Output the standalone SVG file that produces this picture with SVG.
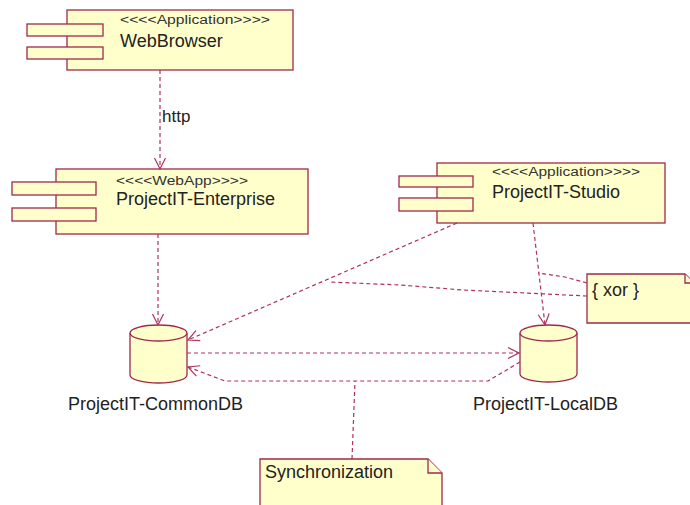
<svg xmlns="http://www.w3.org/2000/svg" width="690" height="505" viewBox="0 0 690 505">
<style>
.box{fill:#FFFFCC;stroke:#A0284F;stroke-width:1.3}
.con{fill:none;stroke:#B03060;stroke-width:1.2;stroke-dasharray:4 3}
.name{font-family:"Liberation Sans",Arial,sans-serif;font-size:18px;fill:#222}
.st{font-family:"Liberation Sans",Arial,sans-serif;font-size:12.5px;fill:#333}
</style>
<defs>
<marker id="arr" markerUnits="userSpaceOnUse" markerWidth="14" markerHeight="14" viewBox="0 0 14 14" refX="12" refY="7" orient="auto">
<path d="M1,1.5 L12,7 L1,12.5" fill="none" stroke="#B03060" stroke-width="1.2"/>
</marker>
</defs>
<rect width="690" height="505" fill="#fff"/>
<g id="WebBrowser">
<rect class="box" x="67" y="10" width="226" height="60"/>
<rect class="box" x="27" y="24" width="76" height="12"/>
<rect class="box" x="27" y="47" width="76" height="12"/>
<text class="st" x="120" y="24" textLength="150" lengthAdjust="spacingAndGlyphs">&lt;&lt;&lt;&lt;Application&gt;&gt;&gt;&gt;</text>
<text class="name" x="120" y="47">WebBrowser</text>
</g>
<g id="ProjectIT-Enterprise">
<rect class="box" x="56" y="169" width="252" height="65"/>
<rect class="box" x="12" y="182" width="84" height="13"/>
<rect class="box" x="12" y="208" width="84" height="13"/>
<text class="st" x="116" y="185" textLength="132" lengthAdjust="spacingAndGlyphs">&lt;&lt;&lt;&lt;WebApp&gt;&gt;&gt;&gt;</text>
<text class="name" x="116" y="205">ProjectIT-Enterprise</text>
</g>
<g id="ProjectIT-Studio">
<rect class="box" x="437" y="163" width="228" height="60"/>
<rect class="box" x="399" y="176" width="74" height="11"/>
<rect class="box" x="399" y="198" width="74" height="13"/>
<text class="st" x="492" y="176" textLength="148" lengthAdjust="spacingAndGlyphs">&lt;&lt;&lt;&lt;Application&gt;&gt;&gt;&gt;</text>
<text class="name" x="492" y="198">ProjectIT-Studio</text>
</g>
<g id="ProjectIT-CommonDB">
<path class="box" d="M130,333 A28.5,8 0 0 1 187,333 L187,375 A28.5,8 0 0 1 130,375 Z"/>
<path class="box" d="M130,333 A28.5,8 0 0 0 187,333" fill="none"/>
<text class="name" x="68" y="410">ProjectIT-CommonDB</text>
</g>
<g id="ProjectIT-LocalDB">
<path class="box" d="M520,333 A28.5,8 0 0 1 577,333 L577,374 A28.5,8 0 0 1 520,374 Z"/>
<path class="box" d="M520,333 A28.5,8 0 0 0 577,333" fill="none"/>
<text class="name" x="473" y="410">ProjectIT-LocalDB</text>
</g>
<g id="xor-note">
<path class="box" d="M587,274 H685 L694,283 V323 H587 Z"/>
<path class="box" d="M685,274 V283 H694" fill="none"/>
<text class="name" x="592" y="296">{ xor }</text>
</g>
<g id="sync-note">
<path class="box" d="M260,459 H428 L442,473 V512 H260 Z"/>
<path class="box" d="M428,459 V473 H442" fill="none"/>
<text class="name" x="265" y="478">Synchronization</text>
</g>
<g id="connectors">
<line class="con" x1="160" y1="70" x2="160" y2="169" marker-end="url(#arr)"/>
<text class="name" x="162" y="122" style="font-size:17px">http</text>
<line class="con" x1="158" y1="234" x2="158" y2="325" marker-end="url(#arr)"/>
<line class="con" x1="457" y1="223" x2="188" y2="340" marker-end="url(#arr)"/>
<line class="con" x1="533" y1="223" x2="545" y2="325" marker-end="url(#arr)"/>
<line class="con" x1="187" y1="353" x2="519" y2="353" marker-end="url(#arr)"/>
<polyline class="con" points="520,362 488,381 225,381 188,367" marker-end="url(#arr)"/>
<polyline class="con" points="352,459 355,381"/>
<polyline class="con" points="587,283 565,277 538,273"/>
<polyline class="con" points="587,296 463,290 400,285 330,282"/>
</g>
</svg>
